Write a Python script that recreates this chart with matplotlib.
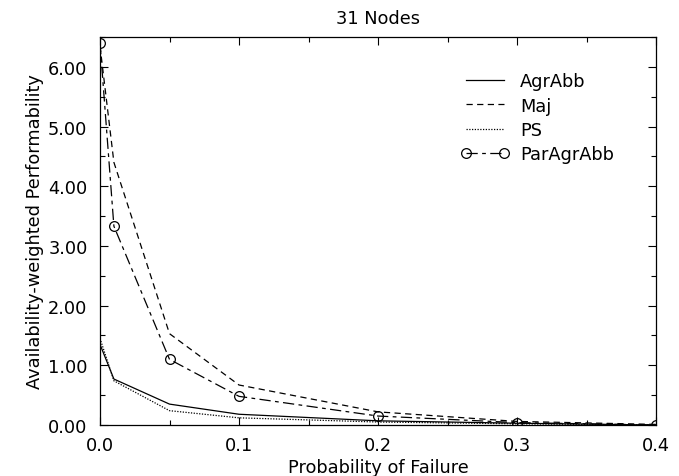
import matplotlib
matplotlib.use("Agg")
import matplotlib.pyplot as plt
from matplotlib.ticker import MultipleLocator, FormatStrFormatter

plt.rcParams['font.family'] = ['DejaVu Sans']

x = [0.0, 0.01, 0.05, 0.1, 0.2, 0.3, 0.4]
agrabb = [1.35, 0.77, 0.35, 0.18, 0.07, 0.03, 0.0]
maj = [6.35, 4.40, 1.53, 0.67, 0.22, 0.06, 0.01]
ps = [1.45, 0.74, 0.24, 0.12, 0.05, 0.02, 0.0]
paragrabb = [6.40, 3.33, 1.10, 0.48, 0.15, 0.04, 0.0]

fig = plt.figure(figsize=(6.79, 4.77), dpi=100)
ax = fig.add_axes([100/679, 1-426/477, 556/679, 388/477])

ax.plot(x, agrabb, color='black', lw=0.9, label='AgrAbb')
ax.plot(x, maj, color='black', lw=0.9, dashes=[5, 3.5], label='Maj')
ax.plot(x, ps, color='black', lw=0.9, dashes=[1, 1.2], label='PS')
ax.plot(x, paragrabb, color='black', lw=0.9, dashes=[9, 3.5, 3, 3.5],
        marker='o', markersize=7, markerfacecolor='none', markeredgewidth=0.9,
        label='ParAgrAbb')

ax.set_xlim(0, 0.4)
ax.set_ylim(0, 6.5)
ax.xaxis.set_major_locator(MultipleLocator(0.1))
ax.xaxis.set_minor_locator(MultipleLocator(0.05))
ax.yaxis.set_major_locator(MultipleLocator(1.0))
ax.yaxis.set_minor_locator(MultipleLocator(0.5))
ax.xaxis.set_major_formatter(FormatStrFormatter('%.1f'))
ax.yaxis.set_major_formatter(FormatStrFormatter('%.2f'))
ax.tick_params(which='both', direction='in', top=True, right=True, labelsize=12.8)
ax.tick_params(which='major', length=6, width=0.8)
ax.tick_params(which='minor', length=3.5, width=0.8)
ax.tick_params(axis='y', which='major', pad=9)
ax.tick_params(axis='x', which='major', pad=8)
for s in ax.spines.values():
    s.set_linewidth(0.9)

ax.set_title('31 Nodes', fontsize=12.8, pad=10)
ax.set_xlabel('Probability of Failure', fontsize=12.8, labelpad=3)
ax.set_ylabel('Availability-weighted Performability', fontsize=12.8, labelpad=3)

leg = ax.legend(loc='upper left', bbox_to_anchor=(0.62, 0.95), frameon=False,
                fontsize=12.8, handlelength=2.75, labelspacing=0.35, handletextpad=0.6,
                numpoints=2)

fig.savefig('out.png', dpi=100)
